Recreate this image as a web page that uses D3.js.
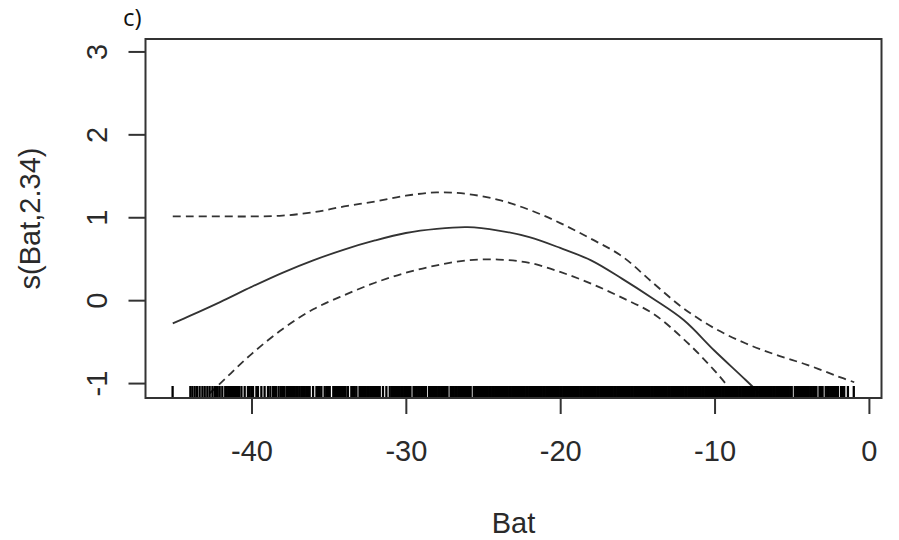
<!DOCTYPE html>
<html>
<head>
<meta charset="utf-8">
<script src="https://cdn.jsdelivr.net/npm/d3@7"></script>
<style>
  body { margin: 0; background: #fff; }
  svg { display: block; }
</style>
</head>
<body>
<svg id="chart" width="899" height="540"></svg>
<script>
// Smooth term s(Bat) with its ±2 SE band, evaluated on a grid of Bat values
const batGrid    = [-45.1, -44, -42, -40, -38, -36, -34, -32, -30, -28, -26, -24, -22, -20, -18, -16, -14, -12, -10, -8, -6, -4, -2, -0.95];
const fitValues  = [-0.28, -0.19, -0.02, 0.16, 0.33, 0.48, 0.61, 0.72, 0.81, 0.86, 0.88, 0.84, 0.76, 0.63, 0.48, 0.26, 0.02, -0.24, -0.61, -0.96, -1.32, -1.70, -2.10, -2.30];
const upperValues = [1.01, 1.01, 1.01, 1.01, 1.02, 1.06, 1.13, 1.19, 1.26, 1.30, 1.28, 1.21, 1.09, 0.93, 0.74, 0.53, 0.21, -0.10, -0.34, -0.52, -0.66, -0.78, -0.92, -0.99];
const lowerValues = [-1.57, -1.35, -1.00, -0.65, -0.35, -0.11, 0.06, 0.21, 0.33, 0.42, 0.48, 0.49, 0.45, 0.34, 0.20, 0.03, -0.16, -0.47, -0.85, -1.30, -1.75, -2.20, -2.60, -2.80];

// Observed Bat values (rug)
const rugBat = [
  -45.11,
  -43.96, -43.83, -43.68, -43.53, -43.36, -43.18, -43.03, -42.86, -42.71, -42.53,
  -42.38, -42.29, -42.19, -42.06, -41.89,
  -41.7, -41.6, -41.5, -41.4, -41.3, -41.2, -41.1, -41.0, -40.9, -40.8,
  -40.65, -40.44, -40.23, -40.12, -40.01, -39.9, -39.68, -39.58, -39.36, -39.15, -38.93, -38.78,
  -38.61, -38.5, -38.4,
  -38.24, -38.1, -38.0, -37.9, -37.74,
  -37.63, -37.5, -37.4, -37.3, -37.2, -37.1, -37.0, -36.88, -36.77, -36.66,
  -36.55, -36.45, -36.34, -36.23, -36.01,
  -35.79, -35.69, -35.58, -35.47, -35.26, -35.15, -35.04, -34.93,
  -34.7, -34.6, -34.5, -34.4, -34.3, -34.2, -34.1, -34.0, -33.9,
  -33.75, -33.53, -33.42, -33.31, -33.2,
  -33.0, -32.9, -32.8, -32.7, -32.6, -32.5, -32.4, -32.3, -32.2, -32.1, -32.0, -31.9, -31.8,
  -31.69, -31.48, -31.26, -31.04,
  -30.9, -30.8, -30.7, -30.6, -30.5, -30.4, -30.3, -30.2, -30.1, -30.0, -29.9, -29.8, -29.7,
  -29.5, -29.4, -29.3, -29.2, -29.1, -29.0, -28.9, -28.8, -28.7,
  -28.5, -28.4, -28.3, -28.2, -28.1, -28.0, -27.9, -27.8, -27.7, -27.6, -27.5, -27.4, -27.3,
  -27.1, -27.0, -26.9, -26.8, -26.7, -26.6, -26.5, -26.4, -26.3, -26.2, -26.1, -26.0, -25.9, -25.8,
  -25.6, -25.5, -25.4, -25.3, -25.2, -25.1,
  -25.0, -24.9, -24.8, -24.7, -24.6, -24.5, -24.4, -24.3, -24.2, -24.1,
  -24.0, -23.9, -23.8, -23.7, -23.6, -23.5, -23.4, -23.3, -23.2, -23.1,
  -23.0, -22.9, -22.8, -22.7, -22.6, -22.5, -22.4, -22.3, -22.2, -22.1,
  -22.0, -21.9, -21.8, -21.7, -21.6, -21.5, -21.4, -21.3, -21.2, -21.1,
  -21.0, -20.9, -20.8, -20.7, -20.6, -20.5, -20.4, -20.3, -20.2, -20.1,
  -20.0, -19.9, -19.8, -19.7, -19.6, -19.5, -19.4, -19.3, -19.2, -19.1,
  -19.0, -18.9, -18.8, -18.7, -18.6, -18.5, -18.4, -18.3, -18.2, -18.1,
  -18.0, -17.9, -17.8, -17.7, -17.6, -17.5, -17.4, -17.3, -17.2, -17.1,
  -17.0, -16.9, -16.8, -16.7, -16.6, -16.5, -16.4, -16.3, -16.2, -16.1,
  -16.0, -15.9, -15.8, -15.7, -15.6, -15.5, -15.4, -15.3, -15.2, -15.1,
  -15.0, -14.9, -14.8, -14.7, -14.6, -14.5, -14.4, -14.3, -14.2, -14.1,
  -14.0, -13.9, -13.8, -13.7, -13.6, -13.5, -13.4, -13.3, -13.2, -13.1,
  -13.0, -12.9, -12.8, -12.7, -12.6, -12.5, -12.4, -12.3, -12.2, -12.1,
  -12.0, -11.9, -11.8, -11.7, -11.6, -11.5, -11.4, -11.3, -11.2, -11.1,
  -11.0, -10.9, -10.8, -10.7, -10.6, -10.5, -10.4, -10.3, -10.2, -10.1,
  -10.0, -9.9, -9.8, -9.7, -9.6, -9.5, -9.4, -9.3, -9.2, -9.1,
  -9.0, -8.9, -8.8, -8.7, -8.6, -8.5, -8.4, -8.3, -8.2, -8.1,
  -8.0, -7.9, -7.8, -7.7, -7.6, -7.5, -7.4, -7.3, -7.2, -7.1,
  -7.0, -6.9, -6.8, -6.7, -6.6, -6.5, -6.4, -6.3, -6.2, -6.1,
  -6.0, -5.9, -5.8, -5.7, -5.6, -5.5, -5.4, -5.3, -5.2, -5.1,
  -5.0,
  -4.8, -4.7, -4.6, -4.5, -4.4, -4.3, -4.2, -4.1, -4.0, -3.9, -3.8, -3.7, -3.6, -3.5, -3.4,
  -3.2, -3.1, -3.0,
  -2.8, -2.7, -2.6, -2.5, -2.4, -2.3, -2.2, -2.1, -2.0,
  -1.8, -1.7, -1.6,
  -1.36, -0.98
];

const xTicks = [-40, -30, -20, -10, 0];
const yTicks = [-1, 0, 1, 2, 3];
const panelLabel = "c)";
const xTitle = "Bat";
const yTitle = "s(Bat,2.34)";

const svg = d3.select("#chart");
const plot = { left: 145.5, right: 881.5, top: 39, bottom: 398 };
const ink = "#333";
const textInk = "#2a2a2a";
const axisFont = "'Liberation Sans', Arial, sans-serif";

// R-style 4% axis extension around the data range
const xr = d3.extent(batGrid);
const xPad = (xr[1] - xr[0]) * 0.04;
const x = d3.scaleLinear().domain([xr[0] - xPad, xr[1] + xPad]).range([plot.left, plot.right]);
const y = d3.scaleLinear().domain([-1.18, 3.15]).range([plot.bottom, plot.top]);

// Clip region for the curves
svg.append("defs").append("clipPath").attr("id", "plotClip")
  .append("rect")
  .attr("x", plot.left).attr("y", plot.top)
  .attr("width", plot.right - plot.left).attr("height", plot.bottom - plot.top);

const curves = svg.append("g").attr("clip-path", "url(#plotClip)");
const lineFor = vals => d3.line()
  .x((d, i) => x(batGrid[i]))
  .y((d) => y(d))
  .curve(d3.curveCatmullRom.alpha(0.5))(vals);

curves.append("path").attr("d", lineFor(upperValues))
  .attr("fill", "none").attr("stroke", ink).attr("stroke-width", 1.8)
  .attr("stroke-dasharray", "8,5");
curves.append("path").attr("d", lineFor(lowerValues))
  .attr("fill", "none").attr("stroke", ink).attr("stroke-width", 1.8)
  .attr("stroke-dasharray", "8,5");
curves.append("path").attr("d", lineFor(fitValues))
  .attr("fill", "none").attr("stroke", ink).attr("stroke-width", 1.8);

// Rug of observed values along the bottom edge
svg.append("g").selectAll("line").data(rugBat).join("line")
  .attr("x1", d => x(d)).attr("x2", d => x(d))
  .attr("y1", plot.bottom).attr("y2", plot.bottom - 12)
  .attr("stroke", "#000").attr("stroke-width", 2.3);

// Plot frame
svg.append("rect")
  .attr("x", plot.left).attr("y", plot.top)
  .attr("width", plot.right - plot.left).attr("height", plot.bottom - plot.top)
  .attr("fill", "none").attr("stroke", ink).attr("stroke-width", 2);

// X axis
const gx = svg.append("g").attr("transform", `translate(0,${plot.bottom})`)
  .call(d3.axisBottom(x).tickValues(xTicks).tickSize(16).tickFormat(d => String(d)));
gx.select(".domain").remove();
gx.selectAll(".tick line").attr("stroke", ink).attr("stroke-width", 2);
gx.selectAll(".tick text")
  .attr("y", 62.5).attr("dy", null)
  .attr("fill", textInk).style("font-family", axisFont).style("font-size", "29px");

// Y axis, labels rotated parallel to the axis
const gy = svg.append("g").attr("transform", `translate(${plot.left},0)`)
  .call(d3.axisLeft(y).tickValues(yTicks).tickSize(17).tickFormat(d => String(d)));
gy.select(".domain").remove();
gy.selectAll(".tick line").attr("stroke", ink).attr("stroke-width", 2);
gy.selectAll(".tick text")
  .attr("x", null).attr("dy", null)
  .attr("text-anchor", "middle")
  .attr("transform", "translate(-38.8,0) rotate(-90)")
  .attr("fill", textInk).style("font-family", axisFont).style("font-size", "29px");

// Axis titles
svg.append("text")
  .attr("x", (plot.left + plot.right) / 2).attr("y", 532.5)
  .attr("text-anchor", "middle").attr("fill", textInk)
  .style("font-family", axisFont).style("font-size", "29px")
  .text(xTitle);

svg.append("text")
  .attr("transform", `translate(40,${(plot.top + plot.bottom) / 2}) rotate(-90)`)
  .attr("text-anchor", "middle").attr("fill", textInk)
  .style("font-family", axisFont).style("font-size", "29px")
  .text(yTitle);

// Panel tag
svg.append("text")
  .attr("x", 123).attr("y", 26)
  .attr("fill", "#111")
  .style("font-family", "'Open Sans', sans-serif").style("font-size", "24px")
  .text(panelLabel);
</script>
</body>
</html>
